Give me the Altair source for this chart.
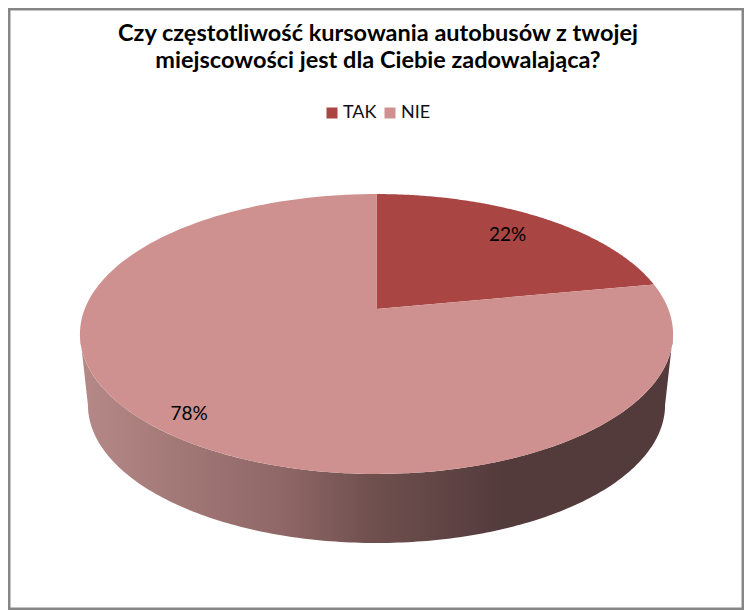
import numpy as np
import pandas as pd
import altair as alt

# --- chart values
categories = ["TAK", "NIE"]
shares = [22, 78]
share_labels = ["22%", "78%"]
label_radius = [0.78, 0.885]   # how far out the label sits on the slice
title_lines = [
    "Czy częstotliwość kursowania autobusów z twojej",
    "miejscowości jest dla Ciebie zadowalająca?",
]
colors = ["#a94543", "#cf9190"]

# --- perspective of the tilted disc, in page pixels
CX, CY, RX, RY, K = 376.5, 309.0, 291.8, 135.5, 0.1786


def project(theta, r=1.0):
    u, v = r * np.sin(theta), r * np.cos(theta)
    d = 1 + K * v
    return CX + RX * u / d, CY - RY * v / d


# slices of the top face
rows = []
start = 0.0
for cat, s in zip(categories, shares):
    stop = start + s / sum(shares) * 2 * np.pi
    th = np.linspace(start, stop, 160)
    x, y = project(th)
    rows.append(pd.DataFrame({"name": cat, "x": np.r_[CX, x], "y": np.r_[CY, y],
                              "i": np.arange(len(th) + 1)}))
    start = stop
slices = pd.concat(rows)

# side wall: front half of the top rim, then back along the lower rim
edge = np.arccos(-K)
th = np.linspace(edge, 2 * np.pi - edge, 200)
tx, ty = project(th)
bx = CX + (tx - CX) * 0.973
by = 405 + (ty - 334) * 0.986
wall = pd.DataFrame({"x": np.r_[tx, bx[::-1]], "y": np.r_[ty, by[::-1]],
                     "i": np.arange(2 * len(th))})

# value labels at the middle of each slice
mids, acc = [], 0
for s in shares:
    mids.append((acc + s / 2) / sum(shares) * 2 * np.pi)
    acc += s
lx, ly = project(np.array(mids), np.array(label_radius))
labels = pd.DataFrame({"t": share_labels, "x": lx, "y": ly})

X = alt.X("x:Q", scale=alt.Scale(domain=[8, 744]), axis=None)
Y = alt.Y("y:Q", scale=alt.Scale(domain=[610, 8]), axis=None)

wall_fill = alt.Gradient(
    gradient="linear", x1=0, x2=1, y1=0, y2=0,
    stops=[
        alt.GradientStop(offset=0.0, color="#b58987"),
        alt.GradientStop(offset=0.34, color="#8f6766"),
        alt.GradientStop(offset=0.5, color="#6e4f4e"),
        alt.GradientStop(offset=0.72, color="#533a3b"),
        alt.GradientStop(offset=1.0, color="#533a3b"),
    ],
)

wall_layer = alt.Chart(wall).mark_line(
    interpolate="linear-closed", fill=wall_fill, strokeWidth=0
).encode(x=X, y=Y, order="i:Q")

slice_layer = alt.Chart(slices).mark_line(
    interpolate="linear-closed", strokeWidth=0
).encode(
    x=X, y=Y, order="i:Q",
    fill=alt.Fill(
        "name:N",
        scale=alt.Scale(domain=categories, range=colors),
        legend=alt.Legend(
            orient="none", legendX=315, legendY=96, direction="horizontal",
            title=None, symbolType="square", symbolSize=121, symbolStrokeWidth=0,
            labelFont="Lato", labelFontSize=18, labelColor="#111111",
            columnPadding=4, labelOffset=2,
        ),
    ),
)

text_layer = alt.Chart(labels).mark_text(
    font="Lato", fontSize=19, color="#000000"
).encode(x=X, y=Y, text="t:N")

chart = alt.layer(wall_layer, slice_layer, text_layer).properties(
    width=736, height=602, padding=0, autosize=alt.AutoSizeParams(type="none"),
    background="white",
    title=alt.TitleParams(
        text=title_lines, anchor="middle", font="Lato", fontSize=23.5,
        fontWeight="bold", color="#000000", lineHeight=27, baseline="top",
        offset=0, dy=64, dx=2,
    ),
).configure_view(stroke="#868686", strokeWidth=5)

chart.save("out.html", embed_options={"renderer": "svg", "actions": False})
